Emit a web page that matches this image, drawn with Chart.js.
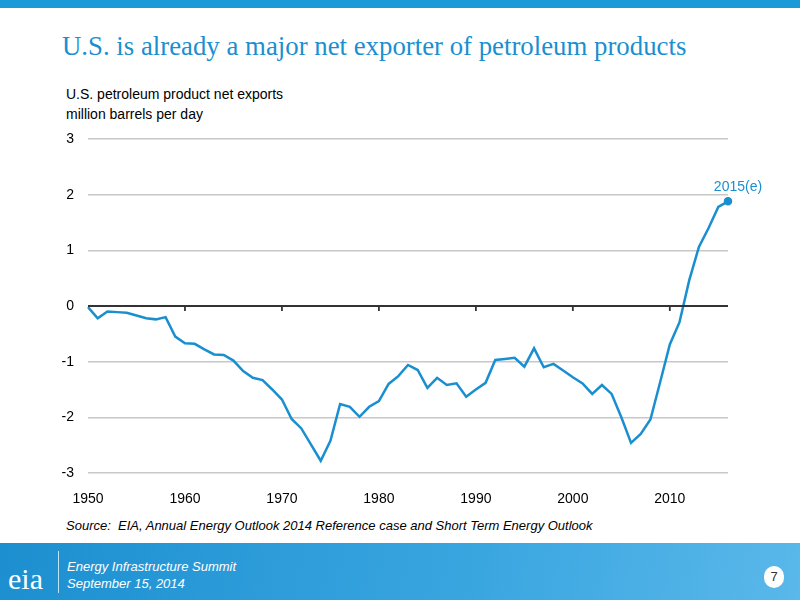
<!DOCTYPE html>
<html><head><meta charset="utf-8">
<script src="https://cdn.jsdelivr.net/npm/chart.js@4"></script>
<style>
body{margin:0;width:800px;height:600px;position:relative;overflow:hidden;background:#fff;font-family:"Liberation Sans",Arial,sans-serif}
#topbar{position:absolute;left:0;top:0;width:800px;height:8px;background:#1a9ad6}
#title{position:absolute;left:62px;top:31px;font-family:"Liberation Serif","Times New Roman",serif;font-size:26.8px;color:#1a8fd0}
.sub{position:absolute;left:66px;font-size:14px;color:#000}
#src{position:absolute;left:66px;top:518px;font-size:13px;font-style:italic;color:#000}
#foot{position:absolute;left:0;top:543px;width:800px;height:57px;background:linear-gradient(100deg,#1c8fd0,#3aa6e0 60%,#5ab8ea)}
#eia{position:absolute;left:8px;top:562px;font-family:"Liberation Serif",serif;font-size:30px;color:#fff}
#sep{position:absolute;left:58px;top:551px;width:1px;height:42px;background:#bfe3f7}
#ft1{position:absolute;left:67px;top:559px;font-size:13px;font-style:italic;color:#fff}
#ft2{position:absolute;left:67px;top:576px;font-size:13px;font-style:italic;color:#fff}
#pg{position:absolute;left:764px;top:566px;width:20px;height:22px;border-radius:10px;background:#fff;color:#333;font-size:13px;text-align:center;line-height:22px}
canvas{position:absolute;left:0;top:0}
</style></head><body>
<div id="topbar"></div>
<div id="title">U.S. is already a major net exporter of petroleum products</div>
<div class="sub" style="top:86px">U.S. petroleum product net exports</div>
<div class="sub" style="top:106px">million barrels per day</div>
<div id="src">Source:&nbsp; EIA, Annual Energy Outlook 2014 Reference case and Short Term Energy Outlook</div>
<div id="foot"></div><div id="eia">eia</div><div id="sep"></div>
<div id="ft1">Energy Infrastructure Summit</div><div id="ft2">September 15, 2014</div>
<div id="pg">7</div>
<canvas id="c" width="800" height="600"></canvas>
<script>
const years = [];
for (let y = 1950; y <= 2016; y++) years.push(y);
const netExports = [-0.02,-0.22,-0.1,-0.11,-0.12,-0.17,-0.22,-0.24,-0.2,-0.55,-0.67,-0.68,-0.78,-0.87,-0.88,-0.98,-1.17,-1.29,-1.33,-1.5,-1.68,-2.03,-2.2,-2.49,-2.78,-2.42,-1.76,-1.81,-1.99,-1.81,-1.71,-1.4,-1.26,-1.06,
-1.15,-1.47,-1.29,-1.42,-1.39,-1.63,-1.5,-1.38,-0.97,-0.95,-0.93,-1.09,-0.76,-1.1,-1.04,-1.16,-1.28,-1.39,-1.58,-1.42,-1.58,-2.0,-2.46,-2.3,-2.04,-1.37,-0.69,-0.29,0.46,1.06,1.4,1.78,1.88];
const xTicks = [1950,1960,1970,1980,1990,2000,2010];
const yTicks = [-3,-2,-1,0,1,2,3];
const endLabel = "2015(e)";
const blue = "#1a8fd0";
const extras = {
  id:'extras',
  afterDatasetsDraw(ch){
    const c=ch.ctx, x=ch.scales.x, y=ch.scales.y;
    c.save();
    c.strokeStyle="#333"; c.lineWidth=1.8;
    c.beginPath(); c.moveTo(ch.chartArea.left,y.getPixelForValue(0)); c.lineTo(ch.chartArea.right,y.getPixelForValue(0)); c.stroke();
    xTicks.forEach(t=>{ if(t===1950) return; const px=x.getPixelForValue(t); c.beginPath(); c.moveTo(px,y.getPixelForValue(0)); c.lineTo(px,y.getPixelForValue(0)+5); c.stroke(); });
    const n=netExports.length-1;
    c.fillStyle=blue; c.font="14px 'Liberation Sans', Arial"; c.textAlign="center";
    c.fillText(endLabel, x.getPixelForValue(years[n])+10, y.getPixelForValue(netExports[n])-10);
    c.restore();
  }
};
new Chart(document.getElementById('c'),{
  type:'line',
  data:{datasets:[{data:years.map((yr,i)=>({x:yr,y:netExports[i]})),borderColor:blue,backgroundColor:blue,borderWidth:2.5,tension:0,clip:false,
    pointRadius:years.map((yr,i)=>i===years.length-1?3:0)}]},
  options:{responsive:false,animation:false,
    layout:{padding:{top:139,right:72,left:0,bottom:0}},
    plugins:{legend:{display:false},tooltip:{enabled:false}},
    scales:{
      x:{type:'linear',min:1950,max:2016,afterFit(s){s.height=127;},
        afterBuildTicks(s){s.ticks=xTicks.map(v=>({value:v}));},
        grid:{display:false},border:{display:false},
        ticks:{color:'#000',font:{size:14,family:"'Liberation Sans', Arial"},padding:10,maxRotation:0,callback:v=>String(v)}},
      y:{min:-3,max:3,afterFit(s){s.width=88;},
        afterBuildTicks(s){s.ticks=yTicks.map(v=>({value:v}));},
        grid:{color:'#c8c8c8',lineWidth:1.5,drawTicks:false},border:{display:false},
        ticks:{color:'#000',font:{size:14,family:"'Liberation Sans', Arial"},padding:14}}
    }},
  plugins:[extras]
});
</script></body></html>
